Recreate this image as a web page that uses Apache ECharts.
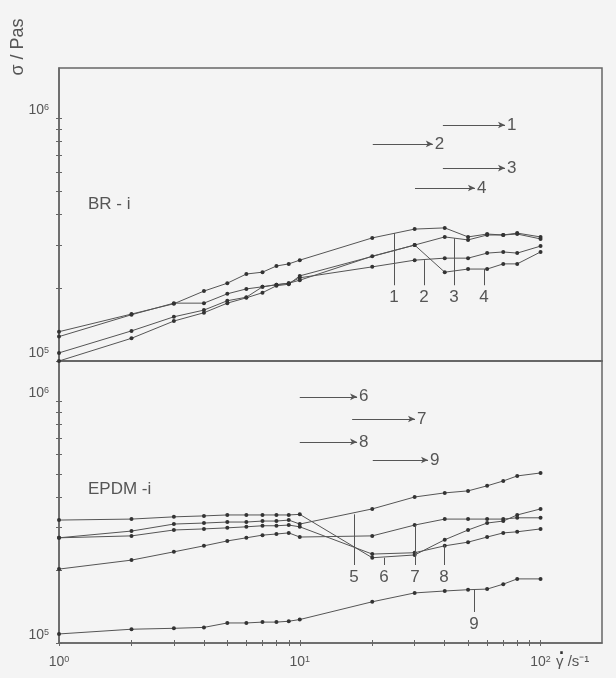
<!DOCTYPE html>
<html>
<head>
<meta charset="utf-8">
<script src="https://cdn.jsdelivr.net/npm/echarts@6/dist/echarts.min.js"></script>
<style>
  html, body { margin: 0; padding: 0; background: #f4f4f4; }
  #chart { width: 616px; height: 678px; }
</style>
</head>
<body>
<div id="chart"></div>
<script>
// shear rates (1/s), shared by all curves
const shearRate = [1, 2, 3, 4, 5, 6, 7, 8, 9, 10, 20, 30, 40, 50, 60, 70, 80, 100]

// BR-i, upper panel (Pa s)
const br1 = [1.32e5, 1.56e5, 1.72e5, 1.94e5, 2.09e5, 2.28e5, 2.32e5, 2.46e5, 2.51e5, 2.60e5, 3.21e5, 3.49e5, 3.53e5, 3.24e5, 3.33e5, 3.30e5, 3.36e5, 3.24e5]
const br2 = [1.08e5, 1.33e5, 1.52e5, 1.62e5, 1.77e5, 1.83e5, 2.02e5, 2.06e5, 2.09e5, 2.20e5, 2.44e5, 2.60e5, 2.65e5, 2.65e5, 2.78e5, 2.81e5, 2.78e5, 2.97e5]
const br3 = [1.26e5, 1.55e5, 1.73e5, 1.73e5, 1.89e5, 1.98e5, 2.02e5, 2.06e5, 2.09e5, 2.15e5, 2.70e5, 3.00e5, 3.24e5, 3.15e5, 3.30e5, 3.30e5, 3.33e5, 3.18e5]
const br4 = [1.00e5, 1.24e5, 1.46e5, 1.58e5, 1.73e5, 1.82e5, 1.91e5, 2.04e5, 2.07e5, 2.24e5, null, 3.00e5, 2.32e5, 2.39e5, 2.39e5, 2.51e5, 2.51e5, 2.81e5]

// EPDM-i, lower panel (Pa s)
const epdm5 = [2.72e5, 2.90e5, 3.10e5, 3.13e5, 3.16e5, 3.16e5, 3.19e5, 3.19e5, 3.22e5, 3.10e5, 3.58e5, 4.01e5, 4.17e5, 4.25e5, 4.46e5, 4.67e5, 4.90e5, 5.04e5]
const epdm6 = [3.22e5, 3.25e5, 3.32e5, 3.35e5, 3.38e5, 3.38e5, 3.38e5, 3.38e5, 3.38e5, 3.40e5, 2.25e5, 2.31e5, 2.67e5, 2.93e5, 3.13e5, 3.19e5, 3.38e5, 3.58e5]
const epdm7 = [2.02e5, 2.20e5, 2.38e5, 2.52e5, 2.64e5, 2.72e5, 2.79e5, 2.82e5, 2.85e5, 2.74e5, 2.77e5, 3.07e5, 3.25e5, 3.25e5, 3.25e5, 3.25e5, 3.29e5, 3.29e5]
const epdm8 = [2.72e5, 2.77e5, 2.93e5, 2.96e5, 2.99e5, 3.02e5, 3.05e5, 3.05e5, 3.07e5, 3.02e5, 2.33e5, 2.36e5, 2.52e5, 2.61e5, 2.74e5, 2.85e5, 2.88e5, 2.96e5]
const epdm9 = [1.09e5, 1.14e5, 1.15e5, 1.16e5, 1.21e5, 1.21e5, 1.22e5, 1.22e5, 1.23e5, 1.25e5, 1.48e5, 1.61e5, 1.64e5, 1.66e5, 1.67e5, 1.75e5, 1.84e5, 1.84e5]

// range arrows: [label, xFrom, xTo, y]
const brRanges = [['1', 39.3, 71.2, 9.36e5], ['2', 20.1, 35.7, 7.82e5], ['3', 39.3, 71.2, 6.22e5], ['4', 30.1, 53.4, 5.15e5]]
const epdmRanges = [['6', 10.0, 17.3, 1.04e6], ['7', 16.5, 30.1, 8.42e5], ['8', 10.0, 17.3, 6.77e5], ['9', 20.1, 34.1, 5.70e5]]

// curve markers: [label, x, yTop, yBottom]
const brDrops = [['1', 24.6, 3.36e5, 2.05e5], ['2', 32.8, 2.60e5, 2.05e5], ['3', 43.7, 3.20e5, 2.05e5], ['4', 58.2, 2.39e5, 2.05e5]]
const epdmDrops = [['5', 16.8, 3.40e5, 2.10e5], ['6', 22.4, 2.25e5, 2.10e5], ['7', 30.1, 3.07e5, 2.10e5], ['8', 39.7, 2.54e5, 2.10e5], ['9', 52.9, 1.656e5, 1.343e5]]

// ticks
const xTicks = [1, 2, 3, 4, 5, 6, 7, 8, 9, 10, 20, 30, 40, 50, 60, 70, 80, 90, 100]
const xLabels = [1, 10, 100]
const yTicks = [1e5, 2e5, 3e5, 4e5, 5e5, 6e5, 7e5, 8e5, 9e5, 1e6]
const yLabels = [1e5, 1e6]

const ink = '#555'
const axisInk = '#666'
const font = 'Liberation Sans'

function powLabel(v) {
    return '{b|10}{s|' + Math.round(Math.log10(v)) + '}'
}
const powRich = {
    b: { fontSize: 14, color: ink, fontFamily: font },
    s: { fontSize: 9, color: ink, fontFamily: font, verticalAlign: 'top', padding: [0, 0, 6, 0] }
}

function curve(values, gridIdx) {
    return {
        type: 'line',
        xAxisIndex: gridIdx,
        yAxisIndex: gridIdx,
        data: shearRate.map((x, i) => [x, values[i]]).filter(p => p[1] != null),
        symbol: 'circle',
        symbolSize: 4,
        itemStyle: { color: '#333' },
        lineStyle: { color: ink, width: 1 },
        silent: true
    }
}

function notes(ranges, drops, gridIdx) {
    const lines = []
    ranges.forEach(r => {
        lines.push([
            { coord: [r[1], r[3]], symbol: 'none' },
            { coord: [r[2], r[3]], symbol: 'arrow', symbolSize: [5, 7],
              label: { show: true, position: 'end', formatter: r[0], distance: 2 } }
        ])
    })
    drops.forEach(d => {
        lines.push([
            { coord: [d[1], d[2]], symbol: 'none' },
            { coord: [d[1], d[3]], symbol: 'none',
              label: { show: true, position: 'end', formatter: d[0], distance: 4 } }
        ])
    })
    return {
        type: 'line',
        xAxisIndex: gridIdx,
        yAxisIndex: gridIdx,
        data: [],
        silent: true,
        markLine: {
            silent: true,
            symbol: 'none',
            lineStyle: { type: 'solid', color: ink, width: 1 },
            label: { color: ink, fontSize: 17, fontFamily: font },
            emphasis: { disabled: true },
            data: lines
        }
    }
}

// main axes carry outward ticks and labels, the extra ones add the inward half of each tick
function xAxis(gridIdx, showLabels, inner) {
    return {
        type: 'log',
        logBase: 10,
        gridIndex: gridIdx,
        position: 'bottom',
        min: 1,
        max: 180,
        axisLine: { show: !inner, lineStyle: { color: axisInk, width: 1.5 } },
        axisTick: { show: showLabels, inside: inner, customValues: xTicks, length: 3, lineStyle: { color: axisInk } },
        axisLabel: {
            show: showLabels && !inner,
            customValues: xLabels,
            formatter: powLabel,
            rich: powRich,
            margin: 12
        },
        splitLine: { show: false }
    }
}

function yAxis(gridIdx, max, inner) {
    return {
        type: 'log',
        logBase: 10,
        gridIndex: gridIdx,
        position: 'left',
        min: 1e5,
        max: max,
        axisLine: { show: !inner, lineStyle: { color: axisInk, width: 1.5 } },
        axisTick: { inside: inner, customValues: yTicks, length: 3, lineStyle: { color: axisInk } },
        axisLabel: {
            show: !inner,
            customValues: yLabels,
            formatter: powLabel,
            rich: powRich,
            margin: 10,
            verticalAlign: 'bottom'
        },
        splitLine: { show: false }
    }
}

const chart = echarts.init(document.getElementById('chart'))
chart.setOption({
    backgroundColor: '#f4f4f4',
    animation: false,
    grid: [
        { left: 59, right: 14, top: 68, height: 293, show: true, borderColor: axisInk, borderWidth: 1.5 },
        { left: 59, right: 14, top: 361, height: 282, show: true, borderColor: axisInk, borderWidth: 1.5 }
    ],
    xAxis: [xAxis(0, false, false), xAxis(1, true, false), xAxis(1, true, true)],
    yAxis: [yAxis(0, 1.606e6, false), yAxis(1, 1.462e6, false), yAxis(0, 1.606e6, true), yAxis(1, 1.462e6, true)],
    graphic: [
        { type: 'text', left: 88, top: 196, style: { text: 'BR - i', fill: ink, fontSize: 17, fontFamily: font } },
        { type: 'text', left: 88, top: 481, style: { text: 'EPDM -i', fill: ink, fontSize: 17, fontFamily: font } },
        { type: 'text', x: 18, y: 47, rotation: Math.PI / 2,
          style: { text: 'σ / Pas', fill: ink, fontSize: 18, fontFamily: font, align: 'center', verticalAlign: 'middle' } },
        { type: 'text', left: 556, top: 654,
          style: { text: 'γ /s⁻¹', fill: ink, fontSize: 15, fontFamily: font } },
        { type: 'text', left: 559, top: 645,
          style: { text: '·', fill: '#333', fontSize: 18, fontWeight: 'bold', fontFamily: font } }
    ],
    series: [
        curve(br1, 0), curve(br2, 0), curve(br3, 0), curve(br4, 0),
        notes(brRanges, brDrops, 0),
        curve(epdm5, 1), curve(epdm6, 1), curve(epdm7, 1), curve(epdm8, 1), curve(epdm9, 1),
        notes(epdmRanges, epdmDrops, 1)
    ]
})
</script>
</body>
</html>
